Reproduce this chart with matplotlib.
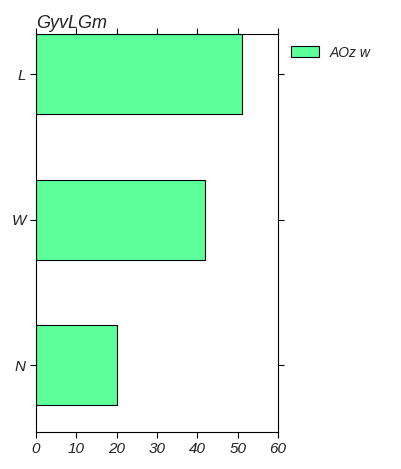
import matplotlib
matplotlib.use("Agg")
import matplotlib.pyplot as plt

categories = ["N", "W", "L"]
values = [20, 42, 51]
series_name = "AOz w"
title = "GyvLGm"
xticks = [0, 10, 20, 30, 40, 50, 60]

plt.rcParams['font.family'] = ['Liberation Sans', 'DejaVu Sans']

fig = plt.figure(figsize=(4.02, 4.69), dpi=100)
ax = fig.add_axes([36/402, 1-432/469, (278-36)/402, (432-34)/469])

ypos = list(range(len(categories)))
ax.barh(ypos, values, height=0.55, color="#5cff9a", edgecolor="black", linewidth=0.8, label=series_name)
ax.set_yticks(ypos)
ax.set_yticklabels(categories, fontstyle="italic", fontsize=11, color="#222222")
ax.set_xticks(xticks)
ax.set_xticklabels([str(t) for t in xticks], fontstyle="italic", fontsize=11, color="#222222")
ax.set_xlim(0, 60)
ax.set_ylim(-0.46, 2.275)
ax.tick_params(direction="out", top=True, right=True, length=4, width=0.8, colors="black", labelcolor="#222222")
for s in ax.spines.values():
    s.set_linewidth(0.8)
ax.set_title(title, loc="left", fontstyle="italic", fontsize=13, pad=4, color="#222222")
leg = ax.legend(loc="upper left", bbox_to_anchor=(1.03, 0.985), frameon=False, prop={"style": "italic", "size": 10},
          handlelength=2.0, handleheight=0.8, borderaxespad=0)
for t in leg.get_texts():
    t.set_color("#222222")

fig.savefig("out.png", dpi=100)
